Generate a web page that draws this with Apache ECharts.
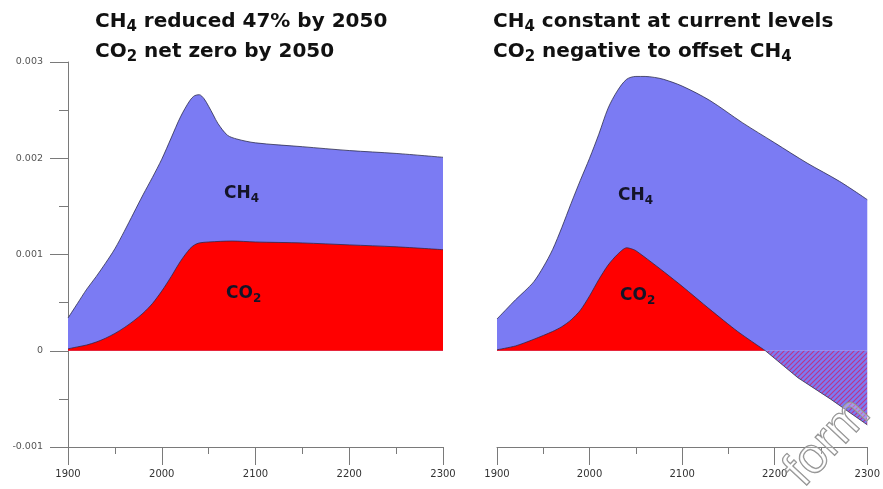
<!DOCTYPE html>
<html>
<head>
<meta charset="utf-8">
<script src="https://cdn.jsdelivr.net/npm/echarts@6/dist/echarts.min.js"></script>
<style>
html,body{margin:0;padding:0;background:#fff;}
#chart{width:883px;height:489px;}
</style>
</head>
<body>
<div id="chart"></div>
<script>
// ---- data ----
var xTicks = [1900, 2000, 2100, 2200, 2300];
var yTicks = [-0.001, 0, 0.001, 0.002, 0.003];

var leftYears = [1900,1910,1920,1930,1940,1950,1960,1970,1980,1990,2000,2010,2020,2030,2035,2040,2045,2050,2055,2060,2070,2080,2100,2150,2200,2250,2300];
var leftTotal = [0.00034,0.00049,0.00064,0.00077,0.00091,0.00106,0.00124,0.00143,0.00162,0.00180,0.00199,0.00221,0.00243,0.00260,0.00265,0.00266,0.00262,0.00254,0.00245,0.00236,0.00224,0.00220,0.00216,0.00212,0.00208,0.00205,0.00201];
var leftCO2Years = [1900,1910,1920,1930,1940,1950,1960,1970,1980,1990,2000,2010,2020,2030,2035,2040,2050,2075,2100,2150,2200,2250,2300];
var leftCO2 = [0.00002,0.00004,0.00006,0.00009,0.00013,0.00018,0.00024,0.00031,0.00039,0.00049,0.00062,0.00077,0.00093,0.00106,0.00110,0.00112,0.00113,0.00114,0.00113,0.00112,0.00110,0.00108,0.00105];

var rightYears = [1900,1910,1920,1930,1940,1950,1960,1970,1980,1990,2000,2010,2020,2030,2040,2050,2060,2070,2080,2100,2130,2165,2200,2235,2270,2300];
var rightTotal = [0.00033,0.00043,0.00053,0.00062,0.00072,0.00087,0.00105,0.00128,0.00153,0.00177,0.00200,0.00225,0.00252,0.00270,0.00282,0.00285,0.00285,0.00284,0.00282,0.00275,0.00260,0.00237,0.00216,0.00195,0.00176,0.00157];
var rightCO2Years = [1900,1920,1940,1960,1970,1980,1990,2000,2010,2020,2030,2040,2045,2050,2075,2100,2130,2160,2190,2225,2260,2300];
var rightCO2 = [0.00001,0.00005,0.00012,0.00020,0.00025,0.00032,0.00042,0.00057,0.00074,0.00089,0.00100,0.00107,0.00106,0.00104,0.00086,0.00067,0.00043,0.00020,0.0,-0.00028,-0.00050,-0.00077];

function pairs(xs, ys) { return xs.map(function (x, i) { return [x, ys[i]]; }); }
var rightCO2Pairs = pairs(rightCO2Years, rightCO2);
var rightCO2Pos = rightCO2Pairs.filter(function (p) { return p[1] >= 0; });
var rightCO2Neg = rightCO2Pairs.filter(function (p) { return p[1] <= 0; });

// ---- styles ----
var BLUE = 'rgb(123,123,243)';
var RED = '#ff0000';
var EDGE = 'rgba(40,40,70,0.85)';
var AXIS = '#7a7a7a';
var SANS = 'DejaVu Sans, Liberation Sans, Arial, sans-serif';

// hatch pattern (blue with red diagonal lines)
var pc = document.createElement('canvas');
pc.width = 5; pc.height = 5;
var g = pc.getContext('2d');
g.fillStyle = BLUE; g.fillRect(0, 0, 5, 5);
g.strokeStyle = 'rgba(220,20,90,0.7)'; g.lineWidth = 1.1;
g.beginPath();
g.moveTo(0, 5); g.lineTo(5, 0);
g.moveTo(-1, 1); g.lineTo(1, -1);
g.moveTo(4, 6); g.lineTo(6, 4);
g.stroke();

var chart = echarts.init(document.getElementById('chart'), null, { renderer: 'canvas' });

function xAxis(idx) {
  return {
    gridIndex: idx, type: 'value', min: xTicks[0], max: xTicks[xTicks.length - 1], interval: 100,
    axisLine: { onZero: false, lineStyle: { color: AXIS, width: 1 } },
    axisTick: { show: true, length: 18, lineStyle: { color: AXIS } },
    minorTick: { show: true, splitNumber: 2, length: 7, lineStyle: { color: AXIS } },
    splitLine: { show: false }, minorSplitLine: { show: false },
    axisLabel: { fontSize: 10, color: '#333', margin: 22, fontFamily: SANS,
      formatter: function (v) { return xTicks.indexOf(v) >= 0 ? String(v) : ''; } }
  };
}
function yAxis(idx, visible) {
  return {
    gridIndex: idx, type: 'value', min: yTicks[0], max: yTicks[yTicks.length - 1], interval: 0.001,
    axisLine: { show: visible, onZero: false, lineStyle: { color: AXIS, width: 1 } },
    axisTick: { show: visible, length: 18, lineStyle: { color: AXIS } },
    minorTick: { show: visible, splitNumber: 2, length: 9, lineStyle: { color: AXIS } },
    splitLine: { show: false }, minorSplitLine: { show: false },
    axisLabel: { show: visible, fontSize: 9.5, color: '#555', margin: 25, fontFamily: SANS,
      formatter: function (v) {
        var r = Math.round(v * 1000) / 1000;
        return r === 0 ? '0' : r.toFixed(3);
      } }
  };
}

function area(name, xi, data, color, z, smooth) {
  return {
    name: name, type: 'line', xAxisIndex: xi, yAxisIndex: xi, data: data,
    smooth: smooth, symbol: 'none', z: z,
    lineStyle: { color: EDGE, width: 0.9 },
    areaStyle: { color: color, opacity: 1, origin: 0 },
    silent: true, animation: false
  };
}

var titleRich = {
  b: { fontSize: 20, fontWeight: 'bold', fill: '#111', fontFamily: SANS, lineHeight: 30 },
  s: { fontSize: 15, fontWeight: 'bold', fill: '#111', fontFamily: SANS, lineHeight: 17, padding: [11, 0, 0, 0] }
};
var labRich = {
  b: { fontSize: 17, fontWeight: 'bold', fill: '#141428', fontFamily: SANS, lineHeight: 20 },
  s: { fontSize: 12, fontWeight: 'bold', fill: '#141428', fontFamily: SANS, lineHeight: 12, padding: [9, 0, 0, 0] }
};
function txt(x, y, text, rich) {
  return { type: 'text', x: x, y: y, z: 100, silent: true, style: { text: text, rich: rich } };
}

chart.setOption({
  animation: false,
  backgroundColor: '#fff',
  grid: [
    { left: 68, top: 62, width: 375, height: 385 },
    { left: 497, top: 62, width: 375, height: 385 }
  ],
  xAxis: [xAxis(0), xAxis(1)],
  yAxis: [yAxis(0, true), yAxis(1, false)],
  series: [
    area('CH4', 0, pairs(leftYears, leftTotal), BLUE, 1, 0.3),
    area('CO2', 0, pairs(leftCO2Years, leftCO2), RED, 2, 0.3),
    area('CH4', 1, pairs(rightYears, rightTotal), BLUE, 1, 0.3),
    area('CO2', 1, rightCO2Pos, RED, 2, 0.25),
    area('CO2 negative', 1, rightCO2Neg, { image: pc, repeat: 'repeat' }, 3, 0)
  ],
  graphic: [
    txt(95, 7, '{b|CH}{s|4}{b| reduced 47% by 2050}\n{b|CO}{s|2}{b| net zero by 2050}', titleRich),
    txt(493, 7, '{b|CH}{s|4}{b| constant at current levels}\n{b|CO}{s|2}{b| negative to offset CH}{s|4}', titleRich),
    txt(224, 184, '{b|CH}{s|4}', labRich),
    txt(226, 284, '{b|CO}{s|2}', labRich),
    txt(618, 186, '{b|CH}{s|4}', labRich),
    txt(620, 286, '{b|CO}{s|2}', labRich),
    { type: 'text', x: 812, y: 496, rotation: 0.82, silent: true, z: 100,
      style: { text: 'form', fontSize: 50, fontFamily: 'Liberation Sans, Arial', fill: 'rgba(255,255,255,0.25)', stroke: '#8a8a8a', lineWidth: 1.3, textVerticalAlign: 'bottom' } }
  ]
});
</script>
</body>
</html>
